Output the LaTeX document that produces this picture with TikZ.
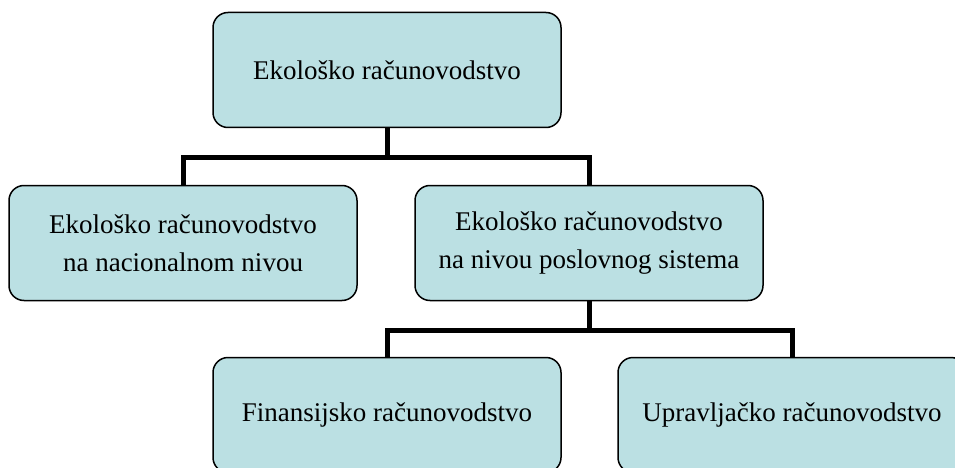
\documentclass[tikz,border=0pt]{standalone}
\usepackage{fontspec}
\setmainfont{Liberation Serif}
\usepackage{tikz}
\usetikzlibrary{math}

\definecolor{boxblue}{RGB}{187,224,227}

\tikzset{
  box/.style={rectangle, draw, line width=1.5pt, rounded corners=15pt,
    fill=boxblue, minimum width=348pt, minimum height=115pt, align=center,
    font=\fontsize{27}{38}\selectfont},
  conn/.style={line width=5pt, line join=miter}
}

\begin{document}
\begin{tikzpicture}[x=1pt,y=-1pt]

  \tikzmath{
    \colL = 183; % left column
    \colM = 387; % middle column
    \colR = 589; % right column
    \colX = 792; % far right column
    \rowA = 70;  % top row
    \rowB = 243; % middle row
    \rowC = 415; % bottom row
  }

  \useasboundingbox (0,0) rectangle (955,468);

  % boxes
  \node[box] (eko) at (\colM,\rowA) {Ekološko računovodstvo};
  \node[box] (nac) at (\colL,\rowB) {Ekološko računovodstvo\\na nacionalnom nivou};
  \node[box] (pos) at (\colR,\rowB) {Ekološko računovodstvo\\na nivou poslovnog sistema};
  \node[box] (fin) at (\colM,\rowC) {Finansijsko računovodstvo};
  \node[box] (upr) at (\colX,\rowC) {Upravljačko računovodstvo};

  % junctions of the tree
  \coordinate (jtop) at (\colM,157);
  \coordinate (jpos) at (\colR,330);

  % connectors
  \draw[conn] (eko.south) -- (jtop);
  \draw[conn] (nac.north) |- (jtop) -| (pos.north);
  \draw[conn] (pos.south) -- (jpos);
  \draw[conn] (fin.north) |- (jpos) -| (upr.north);

\end{tikzpicture}
\end{document}
